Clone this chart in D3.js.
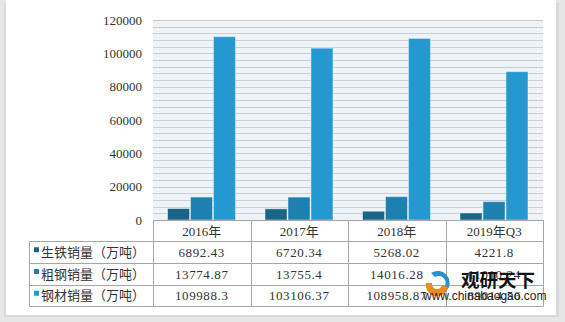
<!DOCTYPE html>
<html>
<head>
<meta charset="utf-8">
<script src="https://cdn.jsdelivr.net/npm/d3@7/dist/d3.min.js"></script>
<style>
  html, body { margin: 0; padding: 0; background: #e9e9e9; }
  svg { display: block; }
</style>
</head>
<body>
<script>
// 年份（分类）
const categories = ["2016年", "2017年", "2018年", "2019年Q3"];
// 系列名称
const seriesNames = ["生铁销量（万吨）", "粗钢销量（万吨）", "钢材销量（万吨）"];
// 各系列数值
const pigIron = [6892.43, 6720.34, 5268.02, 4221.8];
const crudeSteel = [13774.87, 13755.4, 14016.28, 11010.24];
const steelProducts = [109988.3, 103106.37, 108958.87, 89014.56];
// 表格里显示的文字
const pigIronText = ["6892.43", "6720.34", "5268.02", "4221.8"];
const crudeSteelText = ["13774.87", "13755.4", "14016.28", "11010.24"];
const steelProductsText = ["109988.3", "103106.37", "108958.87", "89014.56"];
// y轴刻度
const yTicks = [0, 20000, 40000, 60000, 80000, 100000, 120000];

const colors = ["#1a6487", "#1e80b0", "#2399cf"];
const series = [pigIron, crudeSteel, steelProducts];
const seriesText = [pigIronText, crudeSteelText, steelProductsText];

const width = 565, height = 322;
const plot = { left: 153, right: 543, top: 20, bottom: 220 };
const rowY = [220, 241, 262.5, 284.5, 306];

const svg = d3.select("body").append("svg").attr("width", width).attr("height", height);

// 阴影 + 白色外框
svg.append("rect").attr("x", 0).attr("y", 0).attr("width", width).attr("height", height).attr("fill", "#e6e6e6");
svg.append("rect").attr("x", 4).attr("y", 3).attr("width", 555).attr("height", 314).attr("fill", "#d9d9d9");
svg.append("rect").attr("x", 6).attr("y", 0).attr("width", 550).attr("height", 315).attr("fill", "#fff");

const x = d3.scaleBand().domain(categories).range([plot.left, plot.right]);
const xs = d3.scaleBand().domain(d3.range(series.length)).range([14.5, 82.5]).paddingInner(0.04);
const y = d3.scaleLinear().domain([0, 120000]).range([plot.bottom, plot.top]);

// 绘图区背景和网格
const g = svg.append("g");
g.append("rect")
  .attr("x", plot.left).attr("y", plot.top)
  .attr("width", plot.right - plot.left).attr("height", plot.bottom - plot.top)
  .attr("fill", "#eef3f8");
g.selectAll(".grid")
  .data(d3.range(0, 120001, 4000))
  .enter()
  .append("line")
  .attr("x1", plot.left).attr("x2", plot.right)
  .attr("y1", (d) => Math.round(y(d)) + 0.5).attr("y2", (d) => Math.round(y(d)) + 0.5)
  .attr("stroke", "#cbced2");

// y轴
const yAxis = d3.axisLeft(y).tickValues(yTicks).tickSize(0).tickPadding(11).tickFormat((d) => d);
const ya = svg.append("g").attr("transform", `translate(${plot.left},0)`).call(yAxis);
ya.select(".domain").remove();
ya.selectAll("text")
  .attr("font-family", "'Liberation Serif', 'DejaVu Serif', serif")
  .attr("font-size", 13)
  .attr("fill", "#333");

// 柱子
series.forEach((vals, si) => {
  g.selectAll(`.bar${si}`)
    .data(vals)
    .enter()
    .append("rect")
    .attr("x", (d, i) => x(categories[i]) + xs(si))
    .attr("y", (d) => y(d))
    .attr("width", xs.bandwidth())
    .attr("height", (d) => y(0) - y(d))
    .attr("fill", colors[si])
    .attr("stroke", "#ffffff")
    .attr("stroke-opacity", 0.45);
});

// 数据表
const tbl = svg.append("g").attr("fill", "none").attr("stroke", "#a6a6a6");
const tableLeft = 29.5;
// 横线
tbl.append("line").attr("x1", plot.left).attr("x2", plot.right).attr("y1", rowY[0] + 0.5).attr("y2", rowY[0] + 0.5);
rowY.slice(1).forEach((yy) => {
  tbl.append("line").attr("x1", tableLeft).attr("x2", plot.right).attr("y1", Math.round(yy) + 0.5).attr("y2", Math.round(yy) + 0.5);
});
// 竖线
tbl.append("line").attr("x1", tableLeft).attr("x2", tableLeft).attr("y1", Math.round(rowY[1]) + 0.5).attr("y2", rowY[4] + 0.5);
categories.forEach((c) => {
  const xx = Math.round(x(c)) + 0.5;
  tbl.append("line").attr("x1", xx).attr("x2", xx).attr("y1", rowY[0]).attr("y2", rowY[4] + 0.5);
});
tbl.append("line").attr("x1", plot.right + 0.5).attr("x2", plot.right + 0.5).attr("y1", rowY[0]).attr("y2", rowY[4] + 0.5);

const font = "'Liberation Serif', 'Noto Sans CJK SC', serif";
// 表头
svg.selectAll(".head")
  .data(categories)
  .enter()
  .append("text")
  .attr("x", (d) => x(d) + x.bandwidth() / 2)
  .attr("y", (rowY[0] + rowY[1]) / 2 + 5)
  .attr("text-anchor", "middle")
  .attr("font-family", font)
  .attr("font-size", 13)
  .attr("fill", "#333")
  .text((d) => d);

// 各行
seriesNames.forEach((name, si) => {
  const cy = (rowY[si + 1] + rowY[si + 2]) / 2;
  svg.append("rect")
    .attr("x", 34).attr("y", cy - 4.5).attr("width", 5).attr("height", 5)
    .attr("fill", colors[si]);
  svg.append("text")
    .attr("x", 41).attr("y", cy + 5)
    .attr("font-family", "'Noto Sans CJK SC', sans-serif")
    .attr("font-size", 13)
    .attr("fill", "#333")
    .text(name);
  svg.selectAll(`.val${si}`)
    .data(seriesText[si])
    .enter()
    .append("text")
    .attr("x", (d, i) => x(categories[i]) + x.bandwidth() / 2)
    .attr("y", cy + 5)
    .attr("text-anchor", "middle")
    .attr("font-family", font)
    .attr("font-size", 13)
    .attr("letter-spacing", 0.6)
    .attr("fill", "#333")
    .text((d) => d);
});

// 水印（原图中压在表格上）
const wm = svg.append("g").attr("transform", "translate(423,270)");
wm.append("path")
  .attr("d", "M8,3 A12,12 0 1,1 8,23 L12,19 A7,7 0 1,0 12,7 Z")
  .attr("fill", "#2a8fce");
wm.append("path")
  .attr("d", "M3,13 A11,11 0 0,0 25,17 L19,15 A5,5 0 0,1 9,13 Z")
  .attr("fill", "#f08a1c");
wm.append("text")
  .attr("x", 38).attr("y", 17)
  .attr("font-family", "'Noto Sans CJK SC', sans-serif")
  .attr("font-size", 18.5)
  .attr("font-weight", "bold")
  .attr("fill", "#111")
  .text("观研天下");
wm.append("text")
  .attr("x", 0).attr("y", 30)
  .attr("font-family", "'Liberation Sans', Arial, sans-serif")
  .attr("font-size", 12)
  .attr("fill", "#222")
  .text("www.chinabaogao.com");
</script>
</body>
</html>
